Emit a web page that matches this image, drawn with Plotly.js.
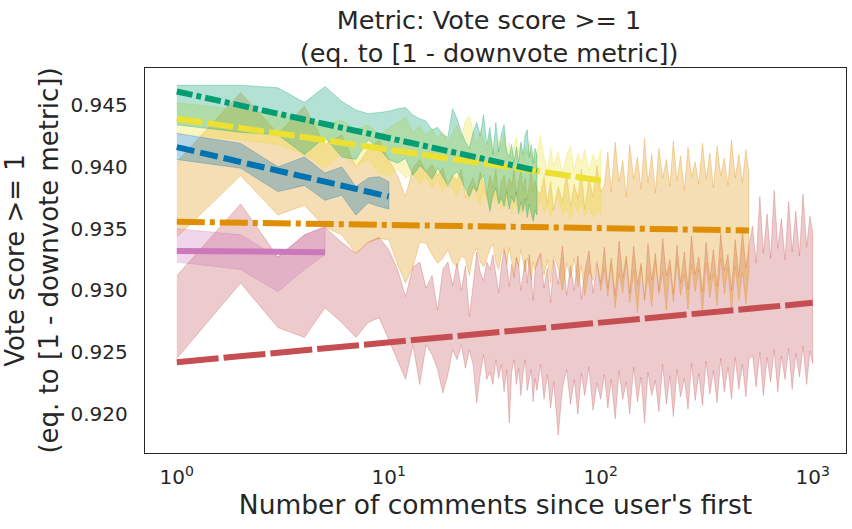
<!DOCTYPE html>
<html>
<head>
<meta charset="utf-8">
<script src="https://cdn.plot.ly/plotly-3.0.1.min.js"></script>
<style>html,body{margin:0;padding:0;background:#fff}</style>
</head>
<body>
<div id="chart" style="width:852px;height:529px"></div>
<script>
// number of comments since the user's first (shared x grid, each series uses a prefix)
const xs = [1,2,3,4,5,6,7,8,9,10,
  11,12,13,14,15,16,17,18,19,20,
  21,22,23,24,25,26,27,28,29,30,
  31,32,33,34,35,36,37,38,39,40,
  41,42,43,44,45,46,47,48,49,50,
  52,54,56,58,60,63,66,69,72,75,78,81,84,88,92,96,100,
  104,108,112,117,122,127,132,137,143,149,
  155,161,167,174,181,188,196,204,212,220,
  229,238,248,258,268,279,290,302,314,327,
  340,354,368,383,398,414,431,448,466,484,500,
  520,541,563,585,609,633,658,684,712,740,
  770,800,832,866,900,936,970,1000];

// pink, x 1..5
const pinkUpper = [0.9350, 0.9345, 0.9327, 0.9345, 0.9352];
const pinkLower = [0.9323, 0.9317, 0.9299, 0.9317, 0.9329];
const pinkTrend = [0.9332, 0.9331];

// blue, x 1..10
const blueUpper = [0.9427, 0.9419, 0.9400, 0.9408, 0.9395, 0.9400, 0.9384, 0.9391, 0.9392, 0.9388];
const blueLower = [0.9406, 0.9399, 0.9380, 0.9385, 0.9373, 0.9377, 0.9361, 0.9371, 0.9368, 0.9366];
const blueTrend = [0.9416, 0.9376];

// green, x 1..50
const greenUpper = [0.9466, 0.9466, 0.9464, 0.9452, 0.9465, 0.9453, 0.9446, 0.9443, 0.9444, 0.9445,
  0.9447, 0.9448, 0.9442, 0.9439, 0.9437, 0.9430, 0.9432, 0.9426, 0.9424, 0.9447,
  0.9439, 0.9428, 0.9420, 0.9415, 0.9428, 0.9436, 0.9425, 0.9442, 0.9418, 0.9432,
  0.9410, 0.9436, 0.9412, 0.9427, 0.9434, 0.9412, 0.9408, 0.9418, 0.9404, 0.9416,
  0.9404, 0.9420, 0.9410, 0.9426, 0.9430, 0.9408, 0.9418, 0.9403, 0.9415, 0.9410];
const greenLower = [0.9434, 0.9428, 0.9426, 0.9410, 0.9424, 0.9408, 0.9406, 0.9422, 0.9415, 0.9406,
  0.9403, 0.9407, 0.9393, 0.9401, 0.9396, 0.9390, 0.9399, 0.9392, 0.9385, 0.9393,
  0.9396, 0.9390, 0.9382, 0.9376, 0.9384, 0.9380, 0.9390, 0.9393, 0.9378, 0.9364,
  0.9377, 0.9383, 0.9370, 0.9375, 0.9368, 0.9380, 0.9366, 0.9376, 0.9371, 0.9380,
  0.9362, 0.9372, 0.9364, 0.9374, 0.9359, 0.9370, 0.9363, 0.9356, 0.9365, 0.9361];
const greenTrend = [0.9461, 0.9397];

// yellow, x 1..100
const yellowUpper = [0.9452, 0.9446, 0.9442, 0.9440, 0.9434, 0.9438, 0.9430, 0.9434, 0.9426, 0.9431,
  0.9436, 0.9440, 0.9428, 0.9433, 0.9425, 0.9431, 0.9422, 0.9429, 0.9420, 0.9427,
  0.9434, 0.9424, 0.9438, 0.9441, 0.9428, 0.9418, 0.9430, 0.9422, 0.9414, 0.9426,
  0.9418, 0.9409, 0.9423, 0.9415, 0.9427, 0.9411, 0.9420, 0.9406, 0.9417, 0.9424,
  0.9412, 0.9419, 0.9405, 0.9416, 0.9410, 0.9421, 0.9407, 0.9414, 0.9402, 0.9412,
  0.9425, 0.9408, 0.9396, 0.9415, 0.9401, 0.9412, 0.9395, 0.9409, 0.9417, 0.9398,
  0.9411, 0.9403, 0.9414, 0.9397, 0.9410, 0.9404, 0.9413];
const yellowLower = [0.9427, 0.9422, 0.9418, 0.9410, 0.9399, 0.9411, 0.9400, 0.9406, 0.9395, 0.9393,
  0.9398, 0.9391, 0.9395, 0.9386, 0.9392, 0.9383, 0.9390, 0.9380, 0.9388, 0.9382,
  0.9376, 0.9387, 0.9379, 0.9372, 0.9384, 0.9377, 0.9369, 0.9381, 0.9374, 0.9366,
  0.9378, 0.9370, 0.9383, 0.9364, 0.9375, 0.9368, 0.9380, 0.9362, 0.9373, 0.9367,
  0.9376, 0.9360, 0.9371, 0.9365, 0.9377, 0.9361, 0.9370, 0.9358, 0.9368, 0.9363,
  0.9375, 0.9363, 0.9370, 0.9360, 0.9368, 0.9377, 0.9361, 0.9366, 0.9358, 0.9371,
  0.9363, 0.9373, 0.9360, 0.9367, 0.9359, 0.9365, 0.9362];
const yellowTrend = [0.9439, 0.9389];

// orange, x 1..500
const orangeUpper = [0.9404, 0.9460, 0.9427, 0.9449, 0.9418, 0.9426, 0.9400, 0.9414, 0.9422, 0.9406,
  0.9393, 0.9376, 0.9399, 0.9406, 0.9396, 0.9402, 0.9393, 0.9399, 0.9383, 0.9393,
  0.9389, 0.9398, 0.9375, 0.9385, 0.9391, 0.9381, 0.9396, 0.9387, 0.9377, 0.9393,
  0.9383, 0.9398, 0.9373, 0.9388, 0.9393, 0.9380, 0.9391, 0.9385, 0.9398, 0.9377,
  0.9389, 0.9396, 0.9381, 0.9391, 0.9373, 0.9386, 0.9399, 0.9380, 0.9389, 0.9381,
  0.9378, 0.9392, 0.9370, 0.9388, 0.9365, 0.9384, 0.9372, 0.9395, 0.9368, 0.9386,
  0.9374, 0.9398, 0.9366, 0.9390, 0.9376, 0.9401, 0.9380,
  0.9385, 0.9412, 0.9380, 0.9420, 0.9388, 0.9405, 0.9376, 0.9418, 0.9390, 0.9408,
  0.9382, 0.9423, 0.9387, 0.9410, 0.9379, 0.9415, 0.9391, 0.9406, 0.9384, 0.9421,
  0.9389, 0.9409, 0.9381, 0.9416, 0.9392, 0.9404, 0.9386, 0.9419, 0.9390, 0.9411,
  0.9383, 0.9417, 0.9393, 0.9407, 0.9385, 0.9422, 0.9391, 0.9410, 0.9387, 0.9414, 0.9395];
const orangeLower = [0.9343, 0.9393, 0.9361, 0.9369, 0.9351, 0.9345, 0.9330, 0.9339, 0.9342, 0.9341,
  0.9321, 0.9306, 0.9319, 0.9339, 0.9338, 0.9329, 0.9322, 0.9326, 0.9333, 0.9323,
  0.9319, 0.9328, 0.9325, 0.9312, 0.9329, 0.9334, 0.9323, 0.9319, 0.9326, 0.9333,
  0.9338, 0.9323, 0.9317, 0.9329, 0.9334, 0.9321, 0.9335, 0.9323, 0.9312, 0.9326,
  0.9319, 0.9333, 0.9323, 0.9315, 0.9326, 0.9320, 0.9308, 0.9323, 0.9317, 0.9321,
  0.9330, 0.9312, 0.9325, 0.9306, 0.9328, 0.9318, 0.9300, 0.9322, 0.9310, 0.9326,
  0.9303, 0.9320, 0.9296, 0.9316, 0.9308, 0.9324, 0.9300,
  0.9318, 0.9295, 0.9322, 0.9286, 0.9314, 0.9298, 0.9325, 0.9290, 0.9316, 0.9282,
  0.9320, 0.9293, 0.9312, 0.9287, 0.9323, 0.9297, 0.9315, 0.9284, 0.9319, 0.9291,
  0.9324, 0.9296, 0.9313, 0.9285, 0.9321, 0.9299, 0.9317, 0.9281, 0.9322, 0.9294,
  0.9314, 0.9288, 0.9326, 0.9297, 0.9318, 0.9283, 0.9320, 0.9292, 0.9315, 0.9289, 0.9316];
const orangeTrend = [0.93556, 0.93486];

// red, x 1..1000
const redUpper = [0.9312, 0.9370, 0.9327, 0.9345, 0.9351, 0.9339, 0.9330, 0.9339, 0.9343, 0.9333,
  0.9317, 0.9295, 0.9319, 0.9323, 0.9302, 0.9312, 0.9284, 0.9317, 0.9323, 0.9304,
  0.9322, 0.9300, 0.9320, 0.9279, 0.9304, 0.9331, 0.9315, 0.9308, 0.9323, 0.9317,
  0.9329, 0.9312, 0.9298, 0.9320, 0.9333, 0.9323, 0.9303, 0.9321, 0.9310, 0.9327,
  0.9320, 0.9300, 0.9315, 0.9325, 0.9306, 0.9329, 0.9312, 0.9292, 0.9317, 0.9323,
  0.9330, 0.9302, 0.9318, 0.9290, 0.9325, 0.9305, 0.9336, 0.9296, 0.9320, 0.9300,
  0.9328, 0.9293, 0.9315, 0.9332, 0.9298, 0.9322, 0.9306,
  0.9335, 0.9302, 0.9326, 0.9296, 0.9340, 0.9310, 0.9328, 0.9298, 0.9336, 0.9305,
  0.9322, 0.9292, 0.9338, 0.9308, 0.9330, 0.9300, 0.9342, 0.9312, 0.9325, 0.9297,
  0.9337, 0.9306, 0.9331, 0.9301, 0.9344, 0.9313, 0.9327, 0.9299, 0.9339, 0.9309,
  0.9333, 0.9303, 0.9346, 0.9316, 0.9329, 0.9300, 0.9341, 0.9311, 0.9348, 0.9318, 0.9336,
  0.9352, 0.9322, 0.9376, 0.9330, 0.9362, 0.9326, 0.9381, 0.9334, 0.9358, 0.9325,
  0.9372, 0.9331, 0.9364, 0.9328, 0.9378, 0.9335, 0.9360, 0.9346];
const redLower = [0.9245, 0.9306, 0.9270, 0.9262, 0.9286, 0.9274, 0.9262, 0.9274, 0.9278, 0.9260,
  0.9244, 0.9228, 0.9256, 0.9224, 0.9256, 0.9248, 0.9236, 0.9217, 0.9232, 0.9252,
  0.9244, 0.9256, 0.9237, 0.9252, 0.9240, 0.9209, 0.9232, 0.9248, 0.9228, 0.9234,
  0.9224, 0.9244, 0.9229, 0.9240, 0.9218, 0.9236, 0.9193, 0.9234, 0.9244, 0.9224,
  0.9237, 0.9215, 0.9232, 0.9244, 0.9219, 0.9228, 0.9236, 0.9210, 0.9229, 0.9219,
  0.9240, 0.9212, 0.9232, 0.9205, 0.9226, 0.9183, 0.9221, 0.9236, 0.9208, 0.9228,
  0.9200, 0.9233, 0.9215, 0.9238, 0.9203, 0.9225, 0.9212,
  0.9232, 0.9205, 0.9228, 0.9196, 0.9235, 0.9212, 0.9226, 0.9200, 0.9238, 0.9210,
  0.9230, 0.9193, 0.9234, 0.9215, 0.9227, 0.9202, 0.9240, 0.9208, 0.9231, 0.9198,
  0.9236, 0.9214, 0.9229, 0.9204, 0.9241, 0.9211, 0.9233, 0.9207, 0.9243, 0.9216,
  0.9235, 0.9209, 0.9245, 0.9218, 0.9238, 0.9212, 0.9246, 0.9220, 0.9240, 0.9214, 0.9244,
  0.9248, 0.9222, 0.9250, 0.9215, 0.9246, 0.9226, 0.9252, 0.9218, 0.9247, 0.9228,
  0.9253, 0.9220, 0.9249, 0.9230, 0.9255, 0.9224, 0.9251, 0.9241];
const redTrend = [0.9242, 0.9290];

const yTicks = [0.920, 0.925, 0.930, 0.935, 0.940, 0.945];
const xTicks = [1, 10, 100, 1000];
const xTickText = ['10<sup>0</sup>', '10<sup>1</sup>', '10<sup>2</sup>', '10<sup>3</sup>'];

function rgba(hex, a) {
  const n = parseInt(hex.slice(1), 16);
  return 'rgba(' + (n >> 16) + ',' + ((n >> 8) & 255) + ',' + (n & 255) + ',' + a + ')';
}

// confidence band as one closed polygon, like fill_between
function band(upper, lower, color) {
  const x = xs.slice(0, upper.length);
  return {
    x: x.concat(x.slice().reverse()),
    y: upper.concat(lower.slice().reverse()),
    mode: 'lines', fill: 'toself',
    fillcolor: rgba(color, 0.3),
    line: {color: rgba(color, 0.3), width: 1},
    hoverinfo: 'skip', showlegend: false
  };
}

function trend(n, ys, color, dash) {
  return {
    x: [1, xs[n - 1]], y: ys, mode: 'lines',
    line: {color: color, width: 6, dash: dash},
    hoverinfo: 'skip', showlegend: false
  };
}

const red = '#c44e52', orange = '#de8f05', pink = '#cc78bc',
      yellow = '#ece133', green = '#029e73', blue = '#0173b2';

const data = [
  band(redUpper, redLower, red),
  band(orangeUpper, orangeLower, orange),
  band(pinkUpper, pinkLower, pink),
  band(yellowUpper, yellowLower, yellow),
  band(greenUpper, greenLower, green),
  band(blueUpper, blueLower, blue),
  trend(redUpper.length, redTrend, red, '42px,5px'),
  trend(orangeUpper.length, orangeTrend, orange, '28px,5px,5px,5px'),
  trend(pinkUpper.length, pinkTrend, pink, 'solid'),
  trend(blueUpper.length, blueTrend, blue, '18px,6px'),
  trend(yellowUpper.length, yellowTrend, yellow, '26px,5px'),
  trend(greenUpper.length, greenTrend, green, '16px,4px,5px,4px')
];

const ink = '#262626';
const layout = {
  width: 852, height: 529,
  margin: {l: 145, r: 6, t: 68, b: 76},
  paper_bgcolor: '#fff', plot_bgcolor: '#fff',
  font: {family: 'DejaVu Sans', color: ink, size: 20},
  title: {
    text: 'Metric: Vote score >= 1<br>(eq. to [1 - downvote metric])',
    font: {size: 25.5, color: ink},
    x: 0.574, xanchor: 'center', yref: 'container', y: 0.946, yanchor: 'top'
  },
  xaxis: {
    type: 'log', range: [-0.15, 3.157],
    tickvals: xTicks, ticktext: xTickText,
    showgrid: false, zeroline: false, ticks: '',
    showline: true, mirror: true, linecolor: ink, linewidth: 1.25,
    ticklabelstandoff: 6,
    tickfont: {size: 20, color: ink},
    title: {text: "Number of comments since user's first", font: {size: 26.5, color: ink}, standoff: 4}
  },
  yaxis: {
    range: [0.91685, 0.9480],
    tickvals: yTicks, tickformat: '.3f',
    showgrid: false, zeroline: false, ticks: '',
    showline: true, mirror: true, linecolor: ink, linewidth: 1.25,
    ticklabelstandoff: 12,
    tickfont: {size: 20, color: ink},
    title: {text: 'Vote score >= 1<br>(eq. to [1 - downvote metric])', font: {size: 26, color: ink}, standoff: 10}
  },
  showlegend: false
};

Plotly.newPlot('chart', data, layout, {staticPlot: true, displayModeBar: false});
</script>
</body>
</html>
